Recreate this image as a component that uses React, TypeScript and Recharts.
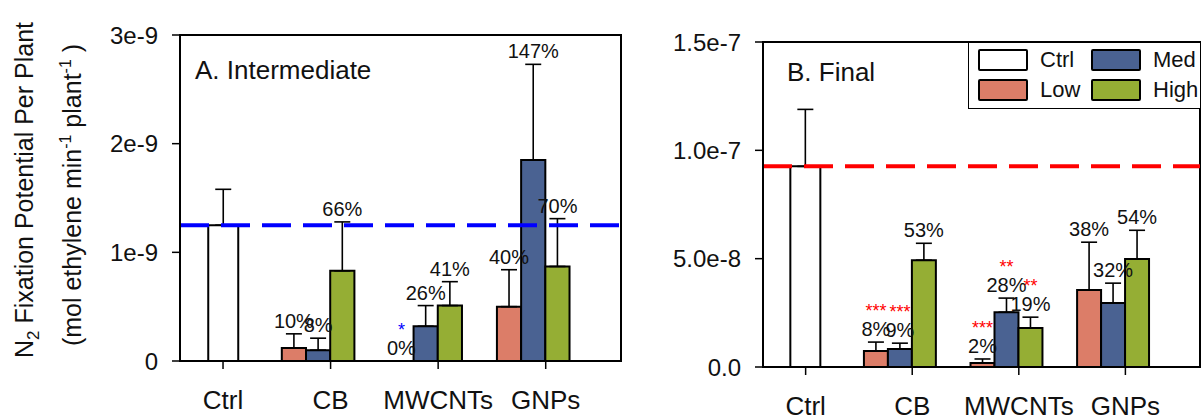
import { Bar, BarChart, ErrorBar, LabelList, ReferenceArea, ReferenceLine, XAxis, YAxis } from "recharts";

const FONT = "Arial, 'Liberation Sans', Helvetica, sans-serif";

const categories = ["Ctrl", "CB", "MWCNTs", "GNPs"];

// A. Intermediate (mol ethylene / min / plant)
const ctrlA = [1.25e-9, null, null, null];
const ctrlErrA = [0.33e-9, null, null, null];
const lowA = [null, 0.12e-9, 0, 0.5e-9];
const lowErrA = [null, 0.13e-9, 0, 0.34e-9];
const medA = [null, 0.1e-9, 0.32e-9, 1.85e-9];
const medErrA = [null, 0.11e-9, 0.19e-9, 0.88e-9];
const highA = [null, 0.83e-9, 0.51e-9, 0.87e-9];
const highErrA = [null, 0.45e-9, 0.22e-9, 0.44e-9];
const lowPctA = ["", "10%", "0%", "40%"];
const medPctA = ["", "8%", "26%", "147%"];
const highPctA = ["", "66%", "41%", "70%"];
const lowStarA = ["", "", "*", ""];
const medStarA = ["", "", "", ""];
const highStarA = ["", "", "", ""];
const yTicksA = [0, 1e-9, 2e-9, 3e-9];
const yTickTextA = ["0", "1e-9", "2e-9", "3e-9"];

// B. Final
const ctrlB = [9.26e-8, null, null, null];
const ctrlErrB = [2.63e-8, null, null, null];
const lowB = [null, 0.74e-8, 0.18e-8, 3.55e-8];
const lowErrB = [null, 0.41e-8, 0.19e-8, 2.21e-8];
const medB = [null, 0.83e-8, 2.53e-8, 2.95e-8];
const medErrB = [null, 0.27e-8, 0.65e-8, 0.92e-8];
const highB = [null, 4.93e-8, 1.8e-8, 4.98e-8];
const highErrB = [null, 0.78e-8, 0.5e-8, 1.33e-8];
const lowPctB = ["", "8%", "2%", "38%"];
const medPctB = ["", "9%", "28%", "32%"];
const highPctB = ["", "53%", "19%", "54%"];
const lowStarB = ["", "***", "***", ""];
const medStarB = ["", "***", "**", ""];
const highStarB = ["", "", "**", ""];
const yTicksB = [0, 5e-8, 1e-7, 1.5e-7];
const yTickTextB = ["0.0", "5.0e-8", "1.0e-7", "1.5e-7"];

const COLORS = { ctrl: "#ffffff", low: "#dc7d68", med: "#4a6292", high: "#95ae34" };

type Num = number | null;

type Series = { vals: Num[]; errs: Num[]; pct: string[]; stars: string[] };

// the Med bar is present in every treated group, so it carries the labels of its whole group
function makeGroupLabel(med: Num[], groups: Series[], ppu: number, starColor: string) {
  return (props: any) => {
    const vb = props.viewBox || {};
    const x = Number(props.x ?? vb.x);
    const y = Number(props.y ?? vb.y);
    const w = Number(props.width ?? vb.width);
    const h = Number(props.height ?? vb.height);
    const i = med.indexOf(Number(props.value));
    if (i < 0) return null;
    const base = y + h;
    return (
      <g>
        {groups.map((s, k) => {
          if (!s.pct[i]) return null;
          const cx = x + w / 2 + (k - 1) * w;
          const top = base - ((s.vals[i] ?? 0) + (s.errs[i] ?? 0)) * ppu;
          const ty = top - 6;
          return (
            <g key={k}>
              <text x={cx} y={ty} textAnchor="middle" fontSize={20} fontFamily={FONT} fill="#111">
                {s.pct[i]}
              </text>
              {s.stars[i] ? (
                <text x={cx} y={ty - 19} textAnchor="middle" fontSize={18} fontFamily={FONT} fill={starColor}>
                  {s.stars[i]}
                </text>
              ) : null}
            </g>
          );
        })}
      </g>
    );
  };
}

function Panel(p: {
  width: number;
  height: number;
  margin: { top: number; right: number; bottom: number; left: number };
  yMax: number;
  yTicks: number[];
  yTickText: string[];
  ctrl: Num[];
  ctrlErr: Num[];
  low: Num[];
  lowErr: Num[];
  med: Num[];
  medErr: Num[];
  high: Num[];
  highErr: Num[];
  lowPct: string[];
  medPct: string[];
  highPct: string[];
  lowStar: string[];
  medStar: string[];
  highStar: string[];
  lineColor: string;
  starColor: string;
}) {
  const xAxisH = 50;
  const yAxisW = 90;
  const plotH = p.height - p.margin.top - p.margin.bottom - xAxisH;
  const ppu = plotH / p.yMax;
  const e = (v: Num) => (v == null ? null : [0, v]);
  const data = categories.map((c, i) => ({
    x: i,
    name: c,
    ctrl: p.ctrl[i],
    ctrlE: e(p.ctrlErr[i]),
    low: p.low[i],
    lowE: e(p.lowErr[i]),
    med: p.med[i],
    medE: e(p.medErr[i]),
    high: p.high[i],
    highE: e(p.highErr[i]),
  }));
  const groups: Series[] = [
    { vals: p.low, errs: p.lowErr, pct: p.lowPct, stars: p.lowStar },
    { vals: p.med, errs: p.medErr, pct: p.medPct, stars: p.medStar },
    { vals: p.high, errs: p.highErr, pct: p.highPct, stars: p.highStar },
  ];
  const tickStyle = { fill: "#111", fontSize: 24, fontFamily: FONT };
  const errProps = { width: 8, stroke: "#000", strokeWidth: 1.6, direction: "y" as const };
  const barProps = { stroke: "#000", strokeWidth: 2, barSize: 30, isAnimationActive: false };
  return (
    <BarChart width={p.width} height={p.height} data={data} margin={p.margin} barGap={0}>
      <XAxis
        xAxisId="g"
        type="number"
        dataKey="x"
        domain={[-0.4, 3.7]}
        ticks={[0, 1, 2, 3]}
        interval={0}
        tickFormatter={(v: number) => categories[v]}
        tick={{ ...tickStyle, fontSize: 26 }}
        tickSize={8}
        tickMargin={22}
        height={xAxisH}
        axisLine={{ stroke: "#000", strokeWidth: 2 }}
        tickLine={{ stroke: "#000", strokeWidth: 1.5 }}
        allowDataOverflow
      />
      <XAxis xAxisId="c" type="number" dataKey="x" domain={[-0.4, 3.7]} height={0} hide allowDataOverflow />
      <YAxis
        domain={[0, p.yMax]}
        ticks={p.yTicks}
        interval={0}
        tickFormatter={(v: number) => p.yTickText[p.yTicks.indexOf(v)] ?? String(v)}
        tick={tickStyle}
        tickSize={8}
        tickMargin={14}
        width={yAxisW}
        axisLine={{ stroke: "#000", strokeWidth: 2 }}
        tickLine={{ stroke: "#000", strokeWidth: 1.5 }}
        allowDataOverflow
      />
      <ReferenceArea
        xAxisId="g"
        x1={-0.4}
        x2={3.7}
        y1={0}
        y2={p.yMax}
        fill="none"
        fillOpacity={0}
        stroke="#000"
        strokeWidth={2}
        ifOverflow="visible"
      />
      <Bar xAxisId="c" dataKey="ctrl" fill={COLORS.ctrl} {...barProps}>
        <ErrorBar dataKey="ctrlE" {...errProps} />
      </Bar>
      <Bar xAxisId="g" dataKey="low" fill={COLORS.low} {...barProps}>
        <ErrorBar dataKey="lowE" {...errProps} />
      </Bar>
      <Bar xAxisId="g" dataKey="med" fill={COLORS.med} {...barProps}>
        <ErrorBar dataKey="medE" {...errProps} />
      </Bar>
      <Bar xAxisId="g" dataKey="high" fill={COLORS.high} {...barProps}>
        <ErrorBar dataKey="highE" {...errProps} />
      </Bar>
      <Bar xAxisId="g" dataKey="med" fill="none" stroke="none" barSize={30} isAnimationActive={false} legendType="none">
        <LabelList dataKey="med" content={makeGroupLabel(p.med, groups, ppu, p.starColor)} />
      </Bar>
      <ReferenceLine
        xAxisId="g"
        y={p.ctrl[0] as number}
        stroke={p.lineColor}
        strokeWidth={4}
        strokeDasharray="29 12"
      />
    </BarChart>
  );
}

function Swatch({ color, label }: { color: string; label: string }) {
  return (
    <div style={{ display: "flex", alignItems: "center", height: 22 }}>
      <div
        style={{
          width: 46,
          height: 18,
          background: color,
          border: "2px solid #000",
          borderRadius: 2,
        }}
      />
      <span style={{ marginLeft: 12, fontSize: 22, fontFamily: FONT, color: "#111" }}>{label}</span>
    </div>
  );
}

export default function App() {
  return (
    <div style={{ position: "absolute", left: 0, top: 0, width: 1203, height: 419, background: "#fff" }}>
      <div style={{ position: "absolute", left: 0, top: 0 }}>
        <Panel
          width={640}
          height={419}
          margin={{ top: 35, right: 19, bottom: 8, left: 90 }}
          yMax={3e-9}
          yTicks={yTicksA}
          yTickText={yTickTextA}
          ctrl={ctrlA}
          ctrlErr={ctrlErrA}
          low={lowA}
          lowErr={lowErrA}
          med={medA}
          medErr={medErrA}
          high={highA}
          highErr={highErrA}
          lowPct={lowPctA}
          medPct={medPctA}
          highPct={highPctA}
          lowStar={lowStarA}
          medStar={medStarA}
          highStar={highStarA}
          lineColor="#0000ff"
          starColor="#0000ff"
        />
      </div>
      <div style={{ position: "absolute", left: 640, top: 0 }}>
        <Panel
          width={563}
          height={419}
          margin={{ top: 42, right: 3, bottom: 2, left: 33 }}
          yMax={1.5e-7}
          yTicks={yTicksB}
          yTickText={yTickTextB}
          ctrl={ctrlB}
          ctrlErr={ctrlErrB}
          low={lowB}
          lowErr={lowErrB}
          med={medB}
          medErr={medErrB}
          high={highB}
          highErr={highErrB}
          lowPct={lowPctB}
          medPct={medPctB}
          highPct={highPctB}
          lowStar={lowStarB}
          medStar={medStarB}
          highStar={highStarB}
          lineColor="#ff0000"
          starColor="#ff0000"
        />
      </div>
      <svg
        width={1203}
        height={419}
        style={{ position: "absolute", left: 0, top: 0, pointerEvents: "none" }}
        fontFamily={FONT}
      >
        <text transform="translate(33,190) rotate(-90)" textAnchor="middle" fontSize={25} fill="#111">
          N<tspan fontSize={17} dy={6}>2</tspan>
          <tspan dy={-6}> Fixation Potential Per Plant</tspan>
        </text>
        <text transform="translate(81,195) rotate(-90)" textAnchor="middle" fontSize={25} fill="#111">
          (mol ethylene min<tspan fontSize={16} dy={-10}>-1</tspan>
          <tspan dy={10}>{"  plant"}</tspan>
          <tspan fontSize={16} dy={-10}>-1</tspan>
          <tspan dy={10}>{" )"}</tspan>
        </text>
        <text x={195} y={79} fontSize={26} fill="#111">
          A. Intermediate
        </text>
        <text x={787} y={81} fontSize={26} fill="#111">
          B. Final
        </text>
      </svg>
      <div
        style={{
          position: "absolute",
          left: 968,
          top: 42,
          width: 232,
          height: 67,
          borderTop: "1.5px solid #000",
          borderLeft: "1.5px solid #000",
          borderBottom: "1.5px solid #000",
          boxSizing: "border-box",
          background: "#fff",
          display: "grid",
          gridTemplateColumns: "113px 110px",
          gridTemplateRows: "30px 30px",
          padding: "6px 0 0 9px",
        }}
      >
        <Swatch color={COLORS.ctrl} label="Ctrl" />
        <Swatch color={COLORS.med} label="Med" />
        <Swatch color={COLORS.low} label="Low" />
        <Swatch color={COLORS.high} label="High" />
      </div>
    </div>
  );
}
